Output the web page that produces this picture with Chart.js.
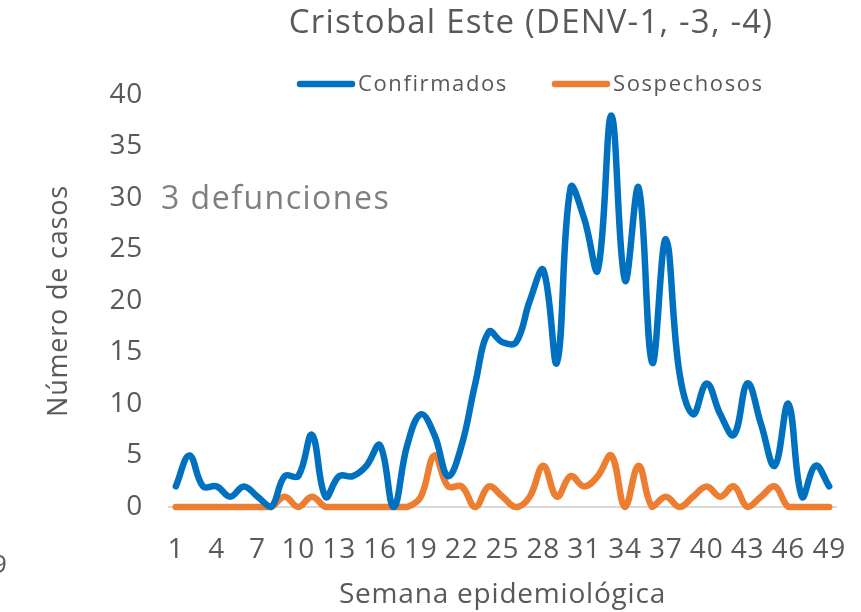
<!DOCTYPE html>
<html>
<head>
<meta charset="utf-8">
<script src="https://cdn.jsdelivr.net/npm/chart.js@4"></script>
<style>
  html, body { margin: 0; padding: 0; background: #fff; }
  #wrap { position: relative; width: 861px; height: 612px; overflow: hidden; }
  #stray { position: absolute; left: -8px; top: 545px; font: 26px "Open Sans", sans-serif; color: #595959; }
</style>
</head>
<body>
<div id="wrap">
  <canvas id="casosChart" width="861" height="612"></canvas>
  <span id="stray">9</span>
</div>
<script>
// semanas epidemiologicas 1..49
const semanas = [];
for (let s = 1; s <= 49; s++) semanas.push(String(s));

const confirmados = [
  2, 5, 2, 2, 1, 2, 1, 0, 3, 3,
  7, 1, 3, 3, 4, 6, 0, 6, 9, 7,
  3, 6, 12, 17, 16, 16, 20, 23, 14, 31,
  28, 23, 38, 22, 31, 14, 26, 13, 9, 12,
  9, 7, 12, 8, 4, 10, 1, 4, 2
];
const sospechosos = [
  0, 0, 0, 0, 0, 0, 0, 0, 1, 0,
  1, 0, 0, 0, 0, 0, 0, 0, 1, 5,
  2, 2, 0, 2, 1, 0, 1, 4, 1, 3,
  2, 3, 5, 0, 4, 0, 1, 0, 1, 2,
  1, 2, 0, 1, 2, 0, 0, 0, 0
];
const yTicks = [0, 5, 10, 15, 20, 25, 30, 35, 40];

const tituloTexto = "Cristobal Este (DENV-1, -3, -4)";
const notaTexto = "3 defunciones";
const gris = "#595959";
const fuente = '"Open Sans", sans-serif';

const textosPlugin = {
  id: "textos",
  beforeLayout(chart) { chart.ctx.letterSpacing = "0.8px"; },
  beforeDraw(chart) { chart.ctx.letterSpacing = "0.8px"; },
  afterDraw(chart) {
    const ctx = chart.ctx;
    ctx.save();
    ctx.fillStyle = gris;
    ctx.textBaseline = "middle";
    ctx.textAlign = "center";
    ctx.font = "33px " + fuente;
    ctx.letterSpacing = "1.2px";
    ctx.fillText(tituloTexto, 531, 24);

    // leyenda
    const items = [
      { ds: chart.data.datasets[0], x: 297 },
      { ds: chart.data.datasets[1], x: 552 }
    ];
    ctx.textAlign = "left";
    ctx.font = "22px " + fuente;
    ctx.letterSpacing = "1.6px";
    items.forEach(it => {
      ctx.strokeStyle = it.ds.borderColor;
      ctx.lineWidth = 6.5;
      ctx.lineCap = "round";
      ctx.beginPath();
      ctx.moveTo(it.x + 3, 84);
      ctx.lineTo(it.x + 55, 84);
      ctx.stroke();
      ctx.fillText(it.ds.label, it.x + 61, 85);
    });

    ctx.fillStyle = "#7f7f7f";
    ctx.font = "32px " + fuente;
    ctx.letterSpacing = "1.5px";
    ctx.fillText(notaTexto, 161, 200);
    ctx.restore();
  }
};

const ctx = document.getElementById("casosChart").getContext("2d");
new Chart(ctx, {
  type: "line",
  data: {
    labels: semanas,
    datasets: [
      {
        label: "Confirmados",
        data: confirmados,
        borderColor: "#0070C0",
        backgroundColor: "#0070C0",
        borderWidth: 6.5,
        pointRadius: 0,
        tension: 0.4,
        borderCapStyle: "round",
        borderJoinStyle: "round",
        clip: false
      },
      {
        label: "Sospechosos",
        data: sospechosos,
        borderColor: "#ED7D31",
        backgroundColor: "#ED7D31",
        borderWidth: 6.5,
        pointRadius: 0,
        tension: 0.4,
        borderCapStyle: "round",
        borderJoinStyle: "round",
        clip: false
      }
    ]
  },
  options: {
    responsive: false,
    animation: false,
    layout: { padding: { top: 95, right: 25, left: 0, bottom: 0 } },
    plugins: {
      legend: { display: false },
      title: { display: false },
      tooltip: { enabled: false }
    },
    scales: {
      x: {
        offset: true,
        grid: { display: false, drawTicks: false },
        border: { display: true, color: "#d9d9d9", width: 2 },
        ticks: {
          autoSkip: false,
          maxRotation: 0,
          padding: 26,
          color: gris,
          font: { family: fuente, size: 28 },
          callback: (v, i) => (i % 3 === 0 ? semanas[i] : "")
        },
        title: {
          display: true,
          text: "Semana epidemiológica",
          color: gris,
          font: { family: fuente, size: 28 },
          padding: { top: 0, bottom: 0 }
        },
        afterFit: s => {
          s.height = 105;
          s.paddingLeft = 0;
          s.paddingRight = 0;
        }
      },
      y: {
        min: 0,
        max: 40,
        afterBuildTicks: s => { s.ticks = yTicks.map(v => ({ value: v })); },
        grid: { display: false, drawTicks: false },
        border: { display: false },
        ticks: {
          padding: 26,
          color: gris,
          font: { family: fuente, size: 28 }
        },
        title: {
          display: true,
          text: "Número de casos",
          color: gris,
          font: { family: fuente, size: 27 },
          padding: { top: 43, bottom: 0 }
        },
        afterFit: s => { s.width = 169; }
      }
    }
  },
  plugins: [textosPlugin]
});
</script>
</body>
</html>
